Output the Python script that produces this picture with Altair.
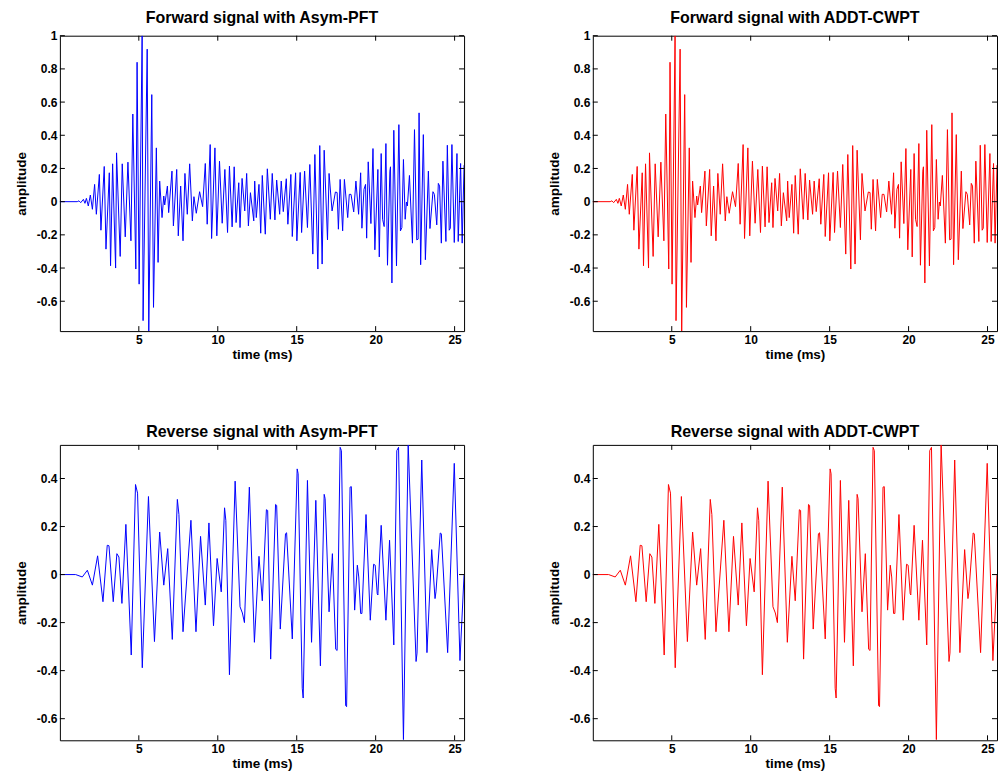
import altair as alt
import pandas as pd

# ---- forward signal, Asym-PFT (time in ms, amplitude) ----
fwd_asym_t = [0.0, 1.10, 1.21, 1.32, 1.49, 1.59, 1.68, 1.80, 1.93, 2.06, 2.20, 2.31, 2.50, 2.60, 2.81, 2.92,
              3.13, 3.21, 3.34, 3.53, 3.59, 3.82, 3.95, 4.14, 4.31, 4.50, 4.62, 4.81, 4.89, 5.02, 5.21, 5.27,
              5.53, 5.63, 5.82, 5.93, 6.11, 6.22, 6.32, 6.47, 6.58, 6.64, 6.81, 6.89, 7.10, 7.19, 7.40, 7.50,
              7.65, 7.80, 7.92, 8.07, 8.22, 8.39, 8.49, 8.64, 8.85, 9.04, 9.21, 9.33, 9.52, 9.61, 9.82, 9.94,
              10.11, 10.28, 10.45, 10.62, 10.74, 10.91, 11.04, 11.16, 11.33, 11.41, 11.54, 11.71, 11.83, 11.94,
              12.07, 12.28, 12.34, 12.44, 12.61, 12.72, 12.82, 13.01, 13.14, 13.33, 13.45, 13.62, 13.73, 13.92,
              14.02, 14.15, 14.34, 14.44, 14.63, 14.72, 14.93, 15.01, 15.22, 15.31, 15.50, 15.68, 15.83, 16.02,
              16.15, 16.34, 16.46, 16.61, 16.74, 16.95, 17.05, 17.24, 17.45, 17.56, 17.64, 17.75, 17.91, 18.02,
              18.23, 18.33, 18.44, 18.61, 18.75, 18.92, 19.05, 19.13, 19.26, 19.36, 19.43, 19.53, 19.70, 19.83,
              19.95, 20.14, 20.23, 20.35, 20.44, 20.54, 20.65, 20.75, 20.90, 20.94, 21.03, 21.15, 21.32, 21.47,
              21.57, 21.66, 21.76, 21.87, 21.95, 22.01, 22.14, 22.33, 22.46, 22.60, 22.69, 22.75, 22.85, 23.02,
              23.15, 23.34, 23.44, 23.63, 23.72, 23.87, 23.97, 24.05, 24.16, 24.26, 24.45, 24.54, 24.66, 24.73,
              24.83, 24.98, 25.15, 25.23, 25.38, 25.48, 25.60]
fwd_asym_v = [0.0, 0.0, 0.005, -0.006, 0.014, -0.010, 0.020, -0.026, 0.040, -0.046, 0.104, -0.076, 0.164, -0.172, 0.212, -0.286,
              0.174, -0.386, 0.228, -0.400, 0.294, -0.330, 0.228, -0.212, 0.238, -0.236, 0.528, -0.406, 0.840, -0.497, 1.000, -0.717,
              0.919, -0.780, 0.645, -0.637, 0.324, -0.366, 0.124, -0.096, 0.034, -0.020, 0.094, -0.066, 0.184, -0.146, 0.194, -0.206,
              0.094, -0.236, 0.170, -0.076, 0.228, -0.116, 0.030, -0.070, 0.060, -0.030, 0.230, -0.136, 0.344, -0.222, 0.324, -0.206,
              0.244, -0.130, 0.194, -0.186, 0.214, -0.152, 0.210, -0.126, 0.114, -0.156, 0.140, -0.056, 0.170, -0.146,
              0.054, -0.116, 0.124, -0.096, 0.104, -0.190, 0.158, -0.196, 0.198, -0.106, 0.170, -0.110, 0.130, -0.076,
              0.124, -0.060, 0.138, -0.136, 0.164, -0.210, 0.174, -0.236, 0.176, -0.186, 0.184, -0.156, 0.224, -0.316,
              0.284, -0.406, 0.338, -0.376, 0.310, -0.230, 0.170, -0.056, 0.058, 0.055, -0.166, 0.134, -0.176, 0.134,
              -0.096, 0.044, 0.044, -0.062, 0.124, -0.076, 0.174, -0.160, 0.074, 0.104, -0.220, 0.240, -0.132, 0.320,
              -0.290, 0.194, -0.333, 0.290, -0.106, -0.150, 0.350, -0.383, 0.184, 0.210, -0.490, 0.430, -0.387, 0.464,
              -0.176, -0.156, 0.254, -0.106, -0.002, -0.026, 0.158, -0.250, 0.434, -0.230, -0.226, 0.535, -0.380, 0.404,
              -0.350, 0.184, -0.162, 0.060, 0.044, -0.140, 0.110, 0.094, -0.250, 0.244, -0.240, 0.340, -0.172, -0.160,
              0.344, -0.246, 0.290, -0.240, 0.230, -0.250, 0.220]

# ---- reverse signal, Asym-PFT ----
rev_asym_t = [0.0, 1.00, 1.42, 1.74, 2.06, 2.39, 2.73, 3.00, 3.11, 3.38, 3.61, 3.74, 3.93, 4.18, 4.52, 4.79,
              4.92, 5.22, 5.61, 5.99, 6.32, 6.58, 6.83, 7.12, 7.44, 7.54, 7.80, 8.30, 8.62, 8.91, 9.21, 9.44,
              9.73, 9.96, 10.22, 10.43, 10.51, 10.74, 11.10, 11.41, 11.56, 11.69, 12.00, 12.32, 12.61, 12.82,
              13.08, 13.16, 13.35, 13.66, 13.73, 13.96, 14.29, 14.36, 14.72, 15.03, 15.09, 15.35, 15.41, 15.68,
              15.94, 16.21, 16.50, 16.74, 16.80, 17.05, 17.26, 17.47, 17.56, 17.75, 17.83, 18.10, 18.16, 18.38,
              18.46, 18.67, 18.84, 18.93, 19.05, 19.13, 19.39, 19.66, 19.87, 19.97, 20.10, 20.14, 20.35, 20.65,
              20.88, 21.15, 21.34, 21.45, 21.76, 22.06, 22.56, 22.62, 22.92, 23.25, 23.55, 23.76, 23.82, 24.09,
              24.16, 24.56, 24.98, 25.34, 25.60]
rev_asym_v = [0.0, 0.0, -0.010, 0.018, -0.044, 0.078, -0.113, 0.122, 0.120, -0.113, 0.087, 0.073, -0.120, 0.209, -0.335, 0.375,
              0.339, -0.388, 0.325, -0.279, 0.177, -0.044, 0.108, -0.270, 0.313, 0.250, -0.238, 0.226, -0.238, 0.159, -0.127, 0.215,
              -0.213, 0.067, -0.072, 0.278, 0.226, -0.417, 0.389, -0.134, -0.160, -0.200, 0.364, -0.282, 0.076, -0.109,
              0.270, 0.267, -0.352, 0.292, 0.288, -0.227, 0.170, 0.174, -0.268, 0.440, 0.420, -0.473, -0.514, 0.392,
              -0.282, 0.309, -0.380, 0.334, 0.316, -0.155, 0.087, -0.311, -0.316, 0.530, 0.516, -0.546, -0.550, 0.364,
              0.366, -0.148, 0.039, -0.010, -0.162, -0.162, 0.250, -0.190, 0.043, 0.039, -0.079, -0.085, 0.205, -0.190,
              0.143, -0.293, 0.516, 0.530, -0.687, 0.543, -0.362, -0.327, 0.477, -0.325, 0.104, -0.100, -0.072, 0.173,
              0.170, -0.325, 0.463, -0.358, 0.000]

# ---- ADDT-CWPT versions (same waveforms at this scale) ----
fwd_addt_t = list(fwd_asym_t)
fwd_addt_v = list(fwd_asym_v)
rev_addt_t = list(rev_asym_t)
rev_addt_v = list(rev_asym_v)

X_TICKS = [5, 10, 15, 20, 25]
Y_TICKS_FWD = [-0.6, -0.4, -0.2, 0, 0.2, 0.4, 0.6, 0.8, 1]
Y_TICKS_REV = [-0.6, -0.4, -0.2, 0, 0.2, 0.4]
X_DOMAIN = [0, 25.6]
Y_DOMAIN_FWD = [-0.78, 1.0]
Y_DOMAIN_REV = [-0.69, 0.54]

W, H = 405, 296
FONT = "Liberation Sans"
TICK_LEN = 5


def panel(t, v, color, title, ydom, yticks):
    df = pd.DataFrame({"t": t, "v": v})
    xs = alt.Scale(domain=X_DOMAIN, nice=False, zero=False)
    ys = alt.Scale(domain=ydom, nice=False, zero=False)
    x_axis = alt.Axis(values=X_TICKS, title="time (ms)", labelFlush=False, format="~g")
    y_axis = alt.Axis(values=yticks, title="amplitude", format="~g",
                      labelExpr="replace(datum.label, '\u2212', '-')")
    line = alt.Chart(df).mark_line(color=color, strokeWidth=1, clip=True).encode(
        x=alt.X("t:Q", scale=xs, axis=x_axis),
        y=alt.Y("v:Q", scale=ys, axis=y_axis),
    )
    # inward tick marks on all four sides of the box
    xt = pd.DataFrame({"t": X_TICKS})
    yt = pd.DataFrame({"v": yticks})
    bottom = alt.Chart(xt).mark_rule(color="black", strokeWidth=1).encode(
        x=alt.X("t:Q", scale=xs, axis=x_axis), y=alt.value(H), y2=alt.value(H - TICK_LEN))
    top = alt.Chart(xt).mark_rule(color="black", strokeWidth=1).encode(
        x=alt.X("t:Q", scale=xs, axis=x_axis), y=alt.value(0), y2=alt.value(TICK_LEN))
    left = alt.Chart(yt).mark_rule(color="black", strokeWidth=1).encode(
        y=alt.Y("v:Q", scale=ys, axis=y_axis), x=alt.value(0), x2=alt.value(TICK_LEN))
    right = alt.Chart(yt).mark_rule(color="black", strokeWidth=1).encode(
        y=alt.Y("v:Q", scale=ys, axis=y_axis), x=alt.value(W - TICK_LEN), x2=alt.value(W))
    return alt.layer(line, bottom, top, left, right).properties(
        width=W, height=H,
        title=alt.TitleParams(title, font=FONT, fontSize=16, fontWeight="bold",
                              color="black", offset=4),
    )


p1 = panel(fwd_asym_t, fwd_asym_v, "#0000ff", "Forward signal with Asym-PFT", Y_DOMAIN_FWD, Y_TICKS_FWD)
p2 = panel(fwd_addt_t, fwd_addt_v, "#ff0000", "Forward signal with ADDT-CWPT", Y_DOMAIN_FWD, Y_TICKS_FWD)
p3 = panel(rev_asym_t, rev_asym_v, "#0000ff", "Reverse signal with Asym-PFT", Y_DOMAIN_REV, Y_TICKS_REV)
p4 = panel(rev_addt_t, rev_addt_v, "#ff0000", "Reverse signal with ADDT-CWPT", Y_DOMAIN_REV, Y_TICKS_REV)

chart = alt.vconcat(
    alt.hconcat(p1, p2, spacing=81),
    alt.hconcat(p3, p4, spacing=81),
    spacing=63,
).properties(
    padding={"left": 13, "top": 8, "right": 0, "bottom": 0},
    background="white",
).configure_view(
    stroke="black", strokeWidth=1
).configure_axis(
    grid=False, domain=False, ticks=False,
    labelFont=FONT, labelFontSize=12, labelFontWeight="bold", labelColor="black", labelPadding=3,
    titleFont=FONT, titleFontSize=13.5, titleFontWeight="bold", titleColor="black",
).configure_axisX(titlePadding=2).configure_axisY(titlePadding=8)

chart.save("out.html", embed_options={"renderer": "svg", "actions": False})
